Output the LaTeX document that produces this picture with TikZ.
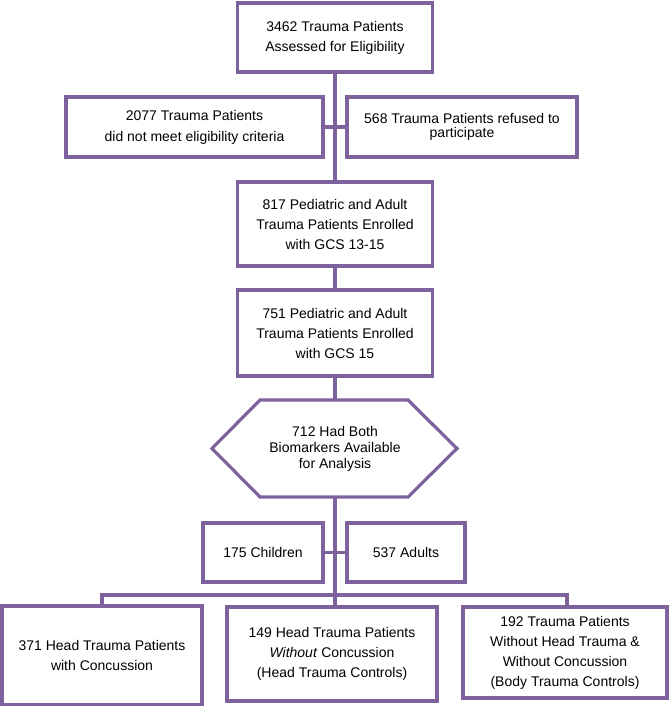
\documentclass[tikz,border=0pt]{standalone}
\usepackage{fontspec}
\setmainfont{Liberation Sans}
\begin{document}
\begin{tikzpicture}[x=1pt,y=-1pt,
  line width=3.2pt,
  every node/.style={font=\fontsize{14}{20}\selectfont},
  box/.style={draw=flow, fill=white, align=center, inner sep=0pt, line width=3.2pt},
  conn/.style={draw=flow, line width=3.2pt}]
\definecolor{flow}{RGB}{126,98,158}
\useasboundingbox (0,0) rectangle (669,706);

\node[box, minimum width=195pt, minimum height=69pt] (top) at (335,37.5) {3462 Trauma Patients\\Assessed for Eligibility};
\node[box, minimum width=257pt, minimum height=60pt, font=\fontsize{14}{21}\selectfont] (n2077) at (194.5,127) {2077 Trauma Patients\\did not meet eligibility criteria};
\node[box, minimum width=230pt, minimum height=60pt, font=\fontsize{14}{14}\selectfont] (n568) at (462,127) {568 Trauma Patients refused to\\participate};
\node[box, minimum width=195pt, minimum height=84pt] (n817) at (335,224) {817 Pediatric and Adult\\Trauma Patients Enrolled\\with GCS 13-15};
\node[box, minimum width=195pt, minimum height=86pt] (n751) at (335,333) {751 Pediatric and Adult\\Trauma Patients Enrolled\\with GCS 15};

\coordinate (hextop) at (335,400);
\coordinate (hexbot) at (335,497);
\draw[conn, line join=miter] (212,448.5) -- (260,400) -- (408,400) -- (457,448.5) -- (408,497) -- (260,497) -- cycle;
\node[align=center, font=\fontsize{14}{16}\selectfont] (hex) at (335,449) {712 Had Both\\Biomarkers Available\\for Analysis};

\node[box, minimum width=120pt, minimum height=59pt] (child) at (263,552.5) {175 Children};
\node[box, minimum width=118pt, minimum height=59pt] (adult) at (406,552.5) {537 Adults};

\coordinate (split) at (335,595);

\node[box, minimum width=200pt, minimum height=99pt] (n371) at (102,655.5) {371 Head Trauma Patients\\with Concussion};
\node[box, minimum width=210pt, minimum height=94pt] (n149) at (332,654) {149 Head Trauma Patients\\\textit{Without} Concussion\\(Head Trauma Controls)};
\node[box, minimum width=204pt, minimum height=91pt] (n192) at (565,652.5) {192 Trauma Patients\\Without Head Trauma \&\\Without Concussion\\(Body Trauma Controls)};

\draw[conn] (top.south) -- (n817.north);
\draw[conn] (n2077.east) -- (n568.west);
\draw[conn] (n817.south) -- (n751.north);
\draw[conn] (n751.south) -- (hextop);
\draw[conn] (hexbot) -- (split);
\draw[conn] (child.east) -- (adult.west);
\draw[conn] (n371.north -| 102,0) |- (split) -| (567,606);
\draw[conn] (split) -- (split |- n149.north);
\end{tikzpicture}
\end{document}
